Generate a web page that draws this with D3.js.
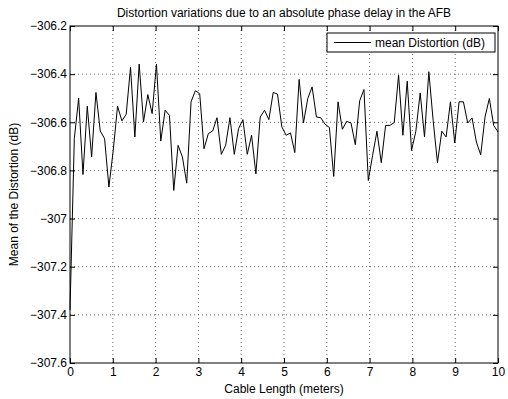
<!DOCTYPE html>
<html>
<head>
<meta charset="utf-8">
<script src="https://cdn.jsdelivr.net/npm/d3@7"></script>
<style>
  body { margin: 0; background: #fff; }
  svg { display: block; font-family: "Liberation Sans", Arial, sans-serif; }
  .grid line { stroke: #444; stroke-dasharray: 1 3; stroke-width: 0.8; }
</style>
</head>
<body>
<div id="chart"></div>
<script>
const title = "Distortion variations due to an absolute phase delay in the AFB";
const xLabel = "Cable Length (meters)";
const yLabel = "Mean of the Distortion (dB)";
const seriesName = "mean Distortion (dB)";

const xTicks = [0, 1, 2, 3, 4, 5, 6, 7, 8, 9, 10];
const yTicks = [-307.6, -307.4, -307.2, -307, -306.8, -306.6, -306.4, -306.2];

// mean distortion, 100 samples over 0..10 m
const distortion = [
  -307.38, -306.668, -306.500, -306.817, -306.533, -306.744, -306.476, -306.636, -306.668, -306.869,
  -306.717, -306.533, -306.594, -306.567, -306.372, -306.661, -306.358, -306.599, -306.485, -306.564,
  -306.358, -306.678, -306.550, -306.571, -306.883, -306.696, -306.744, -306.853, -306.515, -306.469,
  -306.481, -306.710, -306.647, -306.636, -306.581, -306.733, -306.696, -306.581, -306.733, -306.626,
  -306.589, -306.733, -306.654, -306.814, -306.578, -306.550, -306.589, -306.476, -306.483, -306.619,
  -306.654, -306.644, -306.726, -306.422, -306.603, -306.501, -306.453, -306.578, -306.581, -306.608,
  -306.622, -306.825, -306.515, -306.629, -306.596, -306.603, -306.693, -306.511, -306.464, -306.842,
  -306.737, -306.637, -306.768, -306.613, -306.613, -306.601, -306.404, -306.654, -306.429, -306.717,
  -306.637, -306.478, -306.661, -306.390, -306.592, -306.768, -306.637, -306.661, -306.515, -306.686,
  -306.515, -306.515, -306.603, -306.582, -306.682, -306.735, -306.578, -306.501, -306.613, -306.640
];
const cableLength = distortion.map((d, i) => i * 10 / (distortion.length - 1));

const W = 508, H = 399;
const margin = { top: 26, right: 10, bottom: 36, left: 70 };
const width = W - margin.left - margin.right;
const height = H - margin.top - margin.bottom;
const fs = "12px";

const svg = d3.select("#chart").append("svg")
  .attr("width", W)
  .attr("height", H);

const g = svg.append("g")
  .attr("transform", `translate(${margin.left}, ${margin.top})`);

const x = d3.scaleLinear().domain([0, 10]).range([0, width]);
const y = d3.scaleLinear().domain([-307.6, -306.2]).range([height, 0]);

// grid
const grid = g.append("g").attr("class", "grid");
grid.selectAll("line.v")
  .data(xTicks.slice(1, -1))
  .enter().append("line")
  .attr("x1", d => x(d)).attr("x2", d => x(d))
  .attr("y1", 0).attr("y2", height);
grid.selectAll("line.h")
  .data(yTicks.slice(1, -1))
  .enter().append("line")
  .attr("y1", d => y(d)).attr("y2", d => y(d))
  .attr("x1", 0).attr("x2", width);

// axes, ticks pointing inward like matlab
const fmt = d => d3.format("~g")(d);
const tk = 5;
const axB = g.append("g").attr("transform", `translate(0, ${height})`)
  .call(d3.axisBottom(x).tickValues(xTicks).tickSizeInner(-tk).tickSizeOuter(0).tickPadding(4).tickFormat(fmt));
const axT = g.append("g")
  .call(d3.axisTop(x).tickValues(xTicks).tickSizeInner(-tk).tickSizeOuter(0).tickFormat(""));
const axL = g.append("g")
  .call(d3.axisLeft(y).tickValues(yTicks).tickSizeInner(-tk).tickSizeOuter(0).tickPadding(3).tickFormat(fmt));
const axR = g.append("g").attr("transform", `translate(${width}, 0)`)
  .call(d3.axisRight(y).tickValues(yTicks).tickSizeInner(-tk).tickSizeOuter(0).tickFormat(""));

[axB, axT, axL, axR].forEach(a => {
  a.select(".domain").remove();
  a.selectAll("line").attr("stroke", "#000");
  a.selectAll("text").attr("fill", "#000").style("font-size", fs);
});

g.append("rect")
  .attr("width", width).attr("height", height)
  .attr("fill", "none").attr("stroke", "#000").attr("stroke-width", 1);

// line
const line = d3.line()
  .x((d, i) => x(cableLength[i]))
  .y(d => y(d));

g.append("path")
  .datum(distortion)
  .attr("fill", "none")
  .attr("stroke", "#000")
  .attr("stroke-width", 1)
  .attr("d", line);

// legend
const leg = g.append("g").attr("transform", `translate(${width - 171}, 7)`);
leg.append("rect")
  .attr("width", 168).attr("height", 19)
  .attr("fill", "#fff").attr("stroke", "#000");
leg.append("line")
  .attr("x1", 7).attr("x2", 44).attr("y1", 9.5).attr("y2", 9.5)
  .attr("stroke", "#000");
leg.append("text")
  .attr("x", 48).attr("y", 14)
  .style("font-size", fs)
  .text(seriesName);

// titles
svg.append("text")
  .attr("x", margin.left + width / 2).attr("y", 17)
  .attr("text-anchor", "middle")
  .style("font-size", fs)
  .text(title);

svg.append("text")
  .attr("x", margin.left + width / 2).attr("y", 393)
  .attr("text-anchor", "middle")
  .style("font-size", fs)
  .text(xLabel);

svg.append("text")
  .attr("transform", `translate(18, ${margin.top + height / 2}) rotate(-90)`)
  .attr("text-anchor", "middle")
  .style("font-size", fs)
  .text(yLabel);
</script>
</body>
</html>
